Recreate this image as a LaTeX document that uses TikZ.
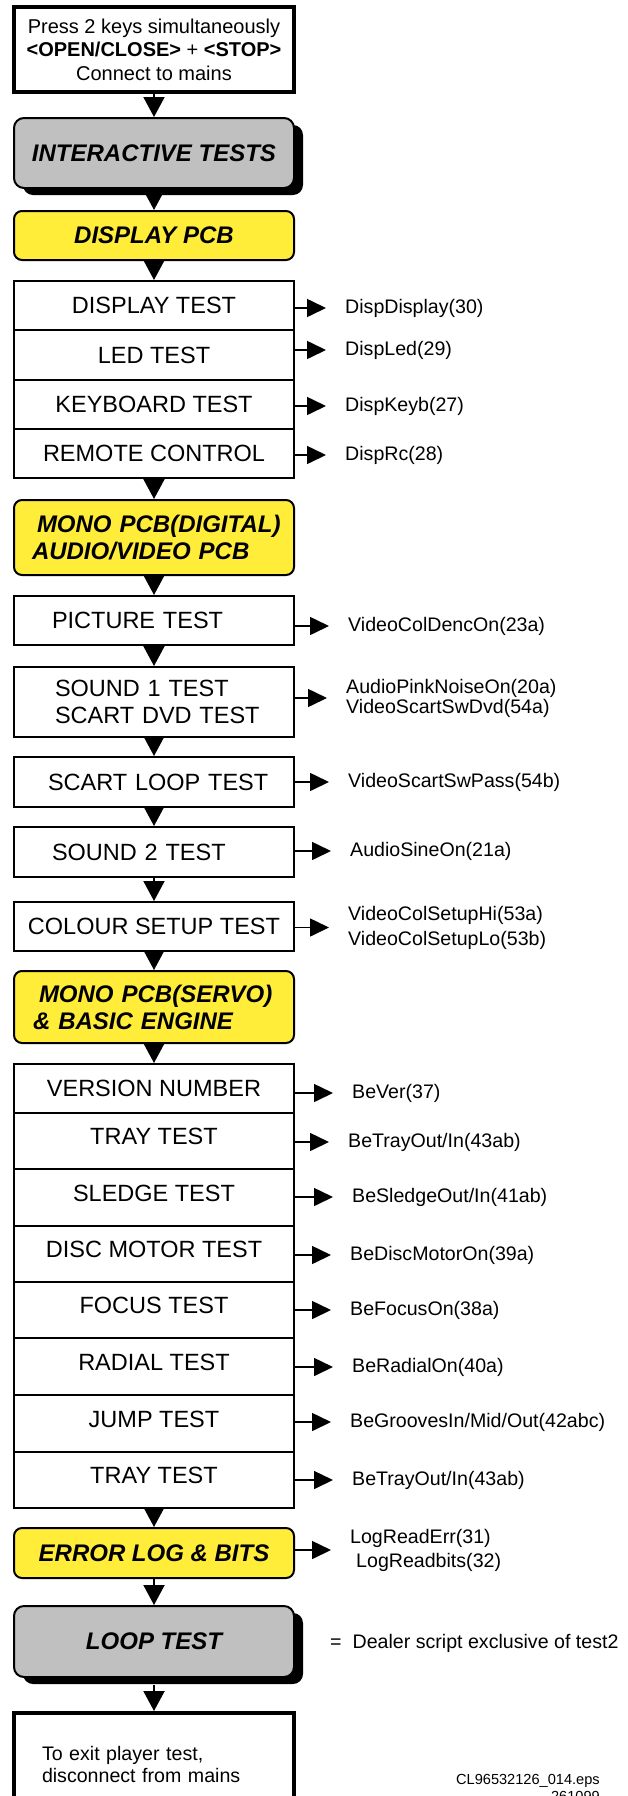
\documentclass[tikz,border=0pt]{standalone}
\usepackage{fontspec}
\setmainfont{Liberation Sans}
\usetikzlibrary{arrows.meta,shadows,calc}
\definecolor{pcbyellow}{RGB}{255,237,58}
\definecolor{testgray}{RGB}{192,192,192}
\begin{document}
\begin{tikzpicture}[x=1pt,y=-1pt,
  every node/.style={inner sep=0pt},
  row/.style={draw, line width=2pt, fill=white, minimum width=280pt, font=\fontsize{23.5}{27}\selectfont},
  upr/.style={text height=17pt, text depth=10pt},
  ybox/.style={draw, line width=2pt, fill=pcbyellow, rounded corners=8pt, minimum width=280pt, font=\fontsize{24}{26.5}\selectfont\bfseries\itshape},
  gbox/.style={draw, line width=2pt, fill=testgray, rounded corners=10pt, minimum width=280pt, font=\fontsize{24}{26.5}\selectfont\bfseries\itshape, general shadow={fill=black, shadow xshift=9pt, shadow yshift=-7pt}},
  endbox/.style={draw, line width=4pt, fill=white, minimum width=280pt},
  lbl/.style={anchor=west, align=left, font=\fontsize{19.6}{22}\selectfont},
  varr/.style={line width=2pt, -{Triangle[width=21pt,length=20pt]}},
  harr/.style={line width=1.6pt, -{Triangle[width=18pt,length=19pt]}, shorten >=19pt},
  lft/.style={text width=#1, align=left}
]
\useasboundingbox (0,0) rectangle (628,1796);
\clip (0,0) rectangle (628,1796);

% main column
\node[endbox, minimum height=85pt, align=center, font=\fontsize{20}{23.5}\selectfont] (start) at (154,49.5)
  {Press 2 keys simultaneously\\\textbf{<OPEN/CLOSE>} + \textbf{<STOP>}\\Connect to mains};
\node[gbox, minimum height=70pt] (inter) at (154,153) {INTERACTIVE TESTS};
\node[ybox, minimum height=49pt] (disp) at (154,235.5) {DISPLAY PCB};

\node[row, minimum height=49pt] (dt) at (154,305.5) {DISPLAY TEST};
\node[row, minimum height=50pt] (led) at (154,355) {LED TEST};
\node[row, minimum height=49pt] (kb) at (154,404.5) {KEYBOARD TEST};
\node[row, minimum height=49pt] (rc) at (154,453.5) {REMOTE CONTROL};

\node[ybox, minimum height=75pt, lft=244pt] (monod) at (154,537.5)
  {\hspace*{5pt}\mbox{MONO PCB(DIGITAL)}\\\mbox{AUDIO/VIDEO PCB}};
\node[row, minimum height=49pt, lft=204pt] (pic) at (154,620.5) {\mbox{PICTURE TEST}};
\node[row, minimum height=70pt, lft=198pt] (s1) at (154,702) {\mbox{SOUND 1 TEST}\\\mbox{SCART DVD TEST}};
\node[row, minimum height=50pt, lft=212pt] (sl) at (154,782) {\mbox{SCART LOOP TEST}};
\node[row, minimum height=50pt, lft=204pt] (s2) at (154,852) {\mbox{SOUND 2 TEST}};
\node[row, minimum height=49pt] (col) at (154,926.5) {COLOUR SETUP TEST};

\node[ybox, minimum height=72pt, lft=242pt, font=\fontsize{24}{27}\selectfont\bfseries\itshape] (monos) at (154,1007)
  {\hspace*{6pt}\mbox{MONO PCB(SERVO)}\\\mbox{\& BASIC ENGINE}};

\node[row, minimum height=49pt] (ver) at (154,1088.5) {VERSION NUMBER};
\node[row, upr, minimum height=56pt] (tray1) at (154,1141) {TRAY TEST};
\node[row, upr, minimum height=57pt] (sled) at (154,1197.5) {SLEDGE TEST};
\node[row, upr, minimum height=56pt] (disc) at (154,1254) {DISC MOTOR TEST};
\node[row, upr, minimum height=56pt] (foc) at (154,1310) {FOCUS TEST};
\node[row, upr, minimum height=57pt] (rad) at (154,1366.5) {RADIAL TEST};
\node[row, upr, minimum height=57pt] (jump) at (154,1423.5) {JUMP TEST};
\node[row, upr, minimum height=56pt] (tray2) at (154,1480) {TRAY TEST};

\node[ybox, minimum height=50pt] (err) at (154,1553) {ERROR LOG \& BITS};
\node[gbox, minimum height=71pt] (loop) at (154,1641.5) {LOOP TEST};
\node[endbox, minimum height=102pt, lft=224pt, font=\fontsize{19.6}{22}\selectfont] (exit) at (154,1764)
  {\mbox{To exit player test,}\\\mbox{disconnect from mains}};

% vertical connectors
\draw[varr] (start.south) -- (inter.north);
\draw[varr] (inter.south) -- (disp.north);
\draw[varr] (disp.south) -- (dt.north);
\draw[varr] (rc.south) -- (monod.north);
\draw[varr] (monod.south) -- (pic.north);
\draw[varr] (pic.south) -- (s1.north);
\draw[varr] (s1.south) -- (sl.north);
\draw[varr] (sl.south) -- (s2.north);
\draw[varr] (s2.south) -- (col.north);
\draw[varr] (col.south) -- (monos.north);
\draw[varr] (monos.south) -- (ver.north);
\draw[varr] (tray2.south) -- (err.north);
\draw[varr] (err.south) -- (loop.north);
\draw[varr] ([yshift=-7pt]loop.south) -- (exit.north);

% labels
\node[lbl] (l1) at (345,308) {DispDisplay(30)};
\node[lbl] (l2) at (345,350) {DispLed(29)};
\node[lbl] (l3) at (345,406) {DispKeyb(27)};
\node[lbl] (l4) at (345,455) {DispRc(28)};
\node[lbl] (l5) at (348,626) {VideoColDencOn(23a)};
\node[lbl, font=\fontsize{19.6}{20}\selectfont] (l6) at (346,698) {AudioPinkNoiseOn(20a)\\VideoScartSwDvd(54a)};
\node[lbl] (l7) at (348,782) {VideoScartSwPass(54b)};
\node[lbl] (l8) at (350,851) {AudioSineOn(21a)};
\node[lbl, font=\fontsize{19.6}{25}\selectfont] (l9) at (348,927.5) {VideoColSetupHi(53a)\\VideoColSetupLo(53b)};
\node[lbl] (l10) at (352,1093) {BeVer(37)};
\node[lbl] (l11) at (348,1142) {BeTrayOut/In(43ab)};
\node[lbl] (l12) at (352,1197) {BeSledgeOut/In(41ab)};
\node[lbl] (l13) at (350,1255) {BeDiscMotorOn(39a)};
\node[lbl] (l14) at (350,1310) {BeFocusOn(38a)};
\node[lbl] (l15) at (352,1367) {BeRadialOn(40a)};
\node[lbl] (l16) at (350,1422) {BeGroovesIn/Mid/Out(42abc)};
\node[lbl] (l17) at (352,1480) {BeTrayOut/In(43ab)};
\node[lbl, font=\fontsize{19.6}{24}\selectfont] (l18) at (350,1550) {LogReadErr(31)\\\hspace*{6pt}LogReadbits(32)};
\node[lbl] (dealer) at (330,1643) {=\hspace{11pt}Dealer script exclusive of test2};
\node[anchor=north east, align=right, font=\fontsize{14.6}{17}\selectfont] (cl) at (600,1774) {CL96532126\_014.eps\\261099};

% horizontal connectors
\draw[harr] (dt.east |- l1.west) -- (l1.west);
\draw[harr] (led.east |- l2.west) -- (l2.west);
\draw[harr] (kb.east |- l3.west) -- (l3.west);
\draw[harr] (rc.east |- l4.west) -- (l4.west);
\draw[harr] (pic.east |- l5.west) -- (l5.west);
\draw[harr] (s1.east |- l6.west) -- (l6.west);
\draw[harr] (sl.east |- l7.west) -- (l7.west);
\draw[harr] (s2.east |- l8.west) -- (l8.west);
\draw[harr] (col.east |- l9.west) -- (l9.west);
\draw[harr] (ver.east |- l10.west) -- (l10.west);
\draw[harr] (tray1.east |- l11.west) -- (l11.west);
\draw[harr] (sled.east |- l12.west) -- (l12.west);
\draw[harr] (disc.east |- l13.west) -- (l13.west);
\draw[harr] (foc.east |- l14.west) -- (l14.west);
\draw[harr] (rad.east |- l15.west) -- (l15.west);
\draw[harr] (jump.east |- l16.west) -- (l16.west);
\draw[harr] (tray2.east |- l17.west) -- (l17.west);
\draw[harr] (err.east |- l18.west) -- (l18.west);
\end{tikzpicture}
\end{document}
